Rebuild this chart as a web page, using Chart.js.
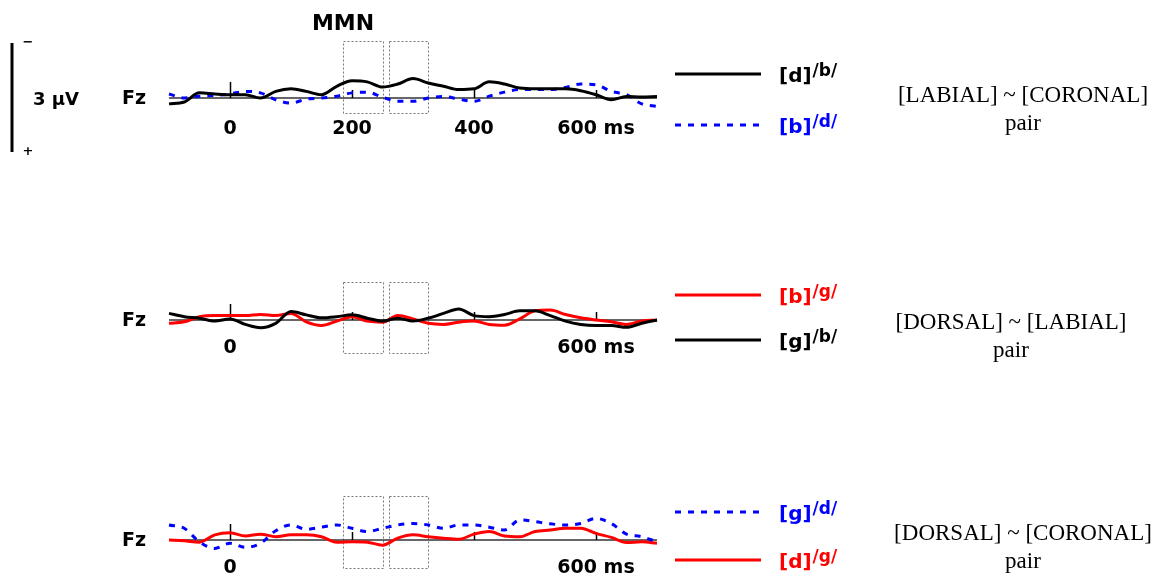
<!DOCTYPE html>
<html>
<head>
<meta charset="utf-8">
<script src="https://cdn.jsdelivr.net/npm/chart.js@4.4.1/dist/chart.umd.min.js"></script>
<style>
  html, body { margin: 0; padding: 0; background: #ffffff; }
  #wrap { position: relative; width: 1162px; height: 576px; overflow: hidden; }
  #wrap canvas { position: absolute; left: 0; top: 0; }
</style>
</head>
<body>
<div id="wrap">
  <canvas id="p1" width="1162" height="576"></canvas>
  <canvas id="p2" width="1162" height="576"></canvas>
  <canvas id="p3" width="1162" height="576"></canvas>
</div>
<script>
// ---------------- DATA ----------------
const timesMs = [-100,-75,-50,-25,0,25,50,75,100,125,150,175,200,225,250,275,300,325,350,375,400,425,450,475,500,525,550,575,600,625,650,675,700];
const tickMs = [0, 200, 400, 600];
const tickLabelsFull = ['0', '200', '400', '600 ms'];
const tickLabelsShort = ['0', '', '', '600 ms'];
const mmnWindowsMs = [[185, 250], [260, 325]];

// µV values, negative plotted upward
// [LABIAL] ~ [CORONAL] pair
const d_b = [0.16,0.11,-0.14,-0.11,-0.09,-0.09,0.00,-0.18,-0.25,-0.18,-0.09,-0.32,-0.47,-0.44,-0.30,-0.38,-0.53,-0.41,-0.32,-0.23,-0.25,-0.44,-0.38,-0.27,-0.25,-0.25,-0.25,-0.20,-0.09,0.05,-0.04,-0.03,-0.04];
const b_d = [-0.11,0.00,-0.05,-0.07,-0.11,-0.18,-0.14,0.05,0.14,0.03,0.00,-0.05,-0.14,-0.16,-0.02,0.09,0.09,0.00,-0.04,0.03,0.09,-0.05,-0.16,-0.23,-0.23,-0.23,-0.29,-0.38,-0.36,-0.18,-0.09,0.16,0.23];
// [DORSAL] ~ [LABIAL] pair
const b_g = [0.09,0.05,-0.09,-0.12,-0.12,-0.12,-0.15,-0.12,-0.18,0.05,0.15,0.03,-0.09,0.03,0.06,-0.12,-0.03,0.09,0.12,0.06,0.03,0.12,0.14,-0.03,-0.25,-0.27,-0.15,-0.06,0.00,0.05,0.12,0.03,0.00];
const g_b = [-0.18,-0.09,-0.05,0.03,-0.03,0.12,0.21,0.09,-0.23,-0.14,-0.06,-0.09,-0.14,-0.05,0.03,-0.05,0.03,-0.05,-0.18,-0.30,-0.12,-0.09,-0.15,-0.25,-0.25,-0.12,0.03,0.12,0.15,0.15,0.20,0.09,0.00];
// [DORSAL] ~ [CORONAL] pair
const g_d = [-0.41,-0.32,0.05,0.23,0.09,0.20,0.09,-0.25,-0.41,-0.29,-0.35,-0.41,-0.32,-0.23,-0.32,-0.41,-0.45,-0.41,-0.32,-0.41,-0.41,-0.35,-0.27,-0.55,-0.50,-0.44,-0.41,-0.45,-0.59,-0.45,-0.16,-0.09,0.05];
const d_g = [0.00,0.02,0.06,-0.14,-0.20,-0.11,-0.16,-0.09,-0.14,-0.14,-0.09,0.06,0.05,0.06,0.14,-0.05,-0.14,-0.09,-0.05,-0.02,-0.16,-0.23,-0.11,-0.09,-0.23,-0.27,-0.32,-0.32,-0.18,-0.07,0.07,0.05,0.09];

// ---------------- LAYOUT / STYLE ----------------
const W = 1162, H = 576;
const X_LEFT = 169, X_RIGHT = 657;
const PX_PER_UV = 36.67;
const Y_MIN = -1.5, Y_MAX = 0.9;
const BLACK = '#000000', RED = '#ff0000', BLUE = '#0000ff';
const BOLD = '"DejaVu Sans", "Liberation Sans", Arial, sans-serif';
const SERIF = '"Liberation Serif", "Times New Roman", serif';

function pts(vals) { return timesMs.map((t, i) => ({ x: t, y: vals[i] })); }

function series(label, vals, color, dashed) {
  return {
    label: label,
    data: pts(vals),
    borderColor: color,
    backgroundColor: color,
    borderWidth: 3,
    borderDash: dashed ? [6, 7] : [],
    pointRadius: 0,
    cubicInterpolationMode: 'monotone',
    fill: false,
    clip: false
  };
}

const erpPlugin = {
  id: 'erp',
  beforeDatasetsDraw(chart, args, o) {
    const ctx = chart.ctx, xs = chart.scales.x, ys = chart.scales.y;
    const y0 = ys.getPixelForValue(0);
    ctx.save();
    // MMN windows (dotted boxes)
    ctx.strokeStyle = '#777777';
    ctx.lineWidth = 1;
    ctx.setLineDash([2, 2]);
    mmnWindowsMs.forEach(w => {
      const xa = Math.round(xs.getPixelForValue(w[0])) + 0.5;
      const xb = Math.round(xs.getPixelForValue(w[1])) + 0.5;
      const yt = Math.round(y0 + o.boxTop) + 0.5;
      const yb = Math.round(y0 + o.boxBottom) + 0.5;
      ctx.strokeRect(xa, yt, xb - xa, yb - yt);
    });
    ctx.setLineDash([]);
    // zero line
    ctx.strokeStyle = '#333333';
    ctx.lineWidth = 1.5;
    ctx.beginPath();
    ctx.moveTo(xs.getPixelForValue(timesMs[0]), y0);
    ctx.lineTo(xs.getPixelForValue(timesMs[timesMs.length - 1]), y0);
    ctx.stroke();
    // ticks
    ctx.strokeStyle = '#000000';
    ctx.lineWidth = 1.5;
    tickMs.forEach(t => {
      const x = Math.round(xs.getPixelForValue(t)) + 0.5;
      const len = t === 0 ? 16 : 8;
      ctx.beginPath();
      ctx.moveTo(x, y0);
      ctx.lineTo(x, y0 - len);
      ctx.stroke();
    });
    ctx.restore();
  },
  afterDraw(chart, args, o) {
    const ctx = chart.ctx, xs = chart.scales.x, ys = chart.scales.y;
    const y0 = ys.getPixelForValue(0);
    ctx.save();
    ctx.fillStyle = '#000000';
    // electrode label
    ctx.font = 'bold 19px ' + BOLD;
    ctx.textAlign = 'left';
    ctx.textBaseline = 'middle';
    ctx.fillText('Fz', 122, y0 + 1.5);
    // tick labels
    ctx.textAlign = 'center';
    const labels = o.full ? tickLabelsFull : tickLabelsShort;
    tickMs.forEach((t, i) => {
      if (labels[i]) ctx.fillText(labels[i], xs.getPixelForValue(t), y0 + o.tickDy);
    });
    // legend
    o.legend.forEach(item => {
      const ds = chart.data.datasets[item.ds];
      ctx.strokeStyle = ds.borderColor;
      ctx.lineWidth = 3;
      ctx.setLineDash(ds.borderDash || []);
      ctx.beginPath();
      ctx.moveTo(675, item.y);
      ctx.lineTo(761, item.y);
      ctx.stroke();
      ctx.setLineDash([]);
      ctx.fillStyle = ds.borderColor;
      ctx.textAlign = 'left';
      ctx.textBaseline = 'alphabetic';
      ctx.font = 'bold 20px ' + BOLD;
      ctx.fillText(item.main, 779, item.y + 8);
      const w = ctx.measureText(item.main).width;
      ctx.font = 'bold 17px ' + BOLD;
      ctx.fillText(item.sup, 779 + w + 1, item.y + 2);
    });
    // right-hand description
    ctx.fillStyle = '#000000';
    ctx.textAlign = 'center';
    ctx.textBaseline = 'alphabetic';
    ctx.font = '23px ' + SERIF;
    ctx.fillText(o.title, o.titleX, o.titleY);
    ctx.fillText('pair', o.titleX, o.titleY + 28);
    // extras for the first panel
    if (o.full) {
      ctx.font = 'bold 22px ' + BOLD;
      ctx.textBaseline = 'middle';
      ctx.fillText('MMN', 343, 24);
      // calibration bar
      ctx.strokeStyle = '#000000';
      ctx.lineWidth = 3;
      ctx.beginPath();
      ctx.moveTo(12, 43);
      ctx.lineTo(12, 152);
      ctx.stroke();
      ctx.font = 'bold 13px ' + BOLD;
      ctx.fillText('\u2212', 28, 43);
      ctx.fillText('+', 28, 152);
      ctx.textAlign = 'left';
      ctx.font = 'bold 18px ' + BOLD;
      ctx.fillText('3 \u00b5V', 33, 100);
    }
    ctx.restore();
  }
};

function makePanel(id, baseline, datasets, cfg) {
  const top = baseline + Y_MIN * PX_PER_UV;
  const bottom = baseline + Y_MAX * PX_PER_UV;
  return new Chart(document.getElementById(id), {
    type: 'line',
    data: { datasets: datasets },
    options: {
      responsive: false,
      devicePixelRatio: 1,
      animation: false,
      events: [],
      layout: { padding: { left: X_LEFT, right: W - X_RIGHT, top: top, bottom: H - bottom } },
      scales: {
        x: { type: 'linear', min: timesMs[0], max: timesMs[timesMs.length - 1], display: false },
        y: { type: 'linear', min: Y_MIN, max: Y_MAX, reverse: true, display: false }
      },
      plugins: {
        legend: { display: false },
        tooltip: { enabled: false },
        title: { display: false },
        erp: cfg
      }
    },
    plugins: [erpPlugin]
  });
}

makePanel('p1', 98, [
  series('[d]/b/', d_b, BLACK, false),
  series('[b]/d/', b_d, BLUE, true)
], {
  full: true, tickDy: 31.5, boxTop: -57, boxBottom: 15,
  legend: [ { ds: 0, y: 74, main: '[d]', sup: '/b/' }, { ds: 1, y: 125, main: '[b]', sup: '/d/' } ],
  title: '[LABIAL] ~ [CORONAL]', titleX: 1023, titleY: 102
});

makePanel('p2', 320, [
  series('[g]/b/', g_b, BLACK, false),
  series('[b]/g/', b_g, RED, false)
], {
  full: false, tickDy: 28.5, boxTop: -38, boxBottom: 33,
  legend: [ { ds: 1, y: 295, main: '[b]', sup: '/g/' }, { ds: 0, y: 340, main: '[g]', sup: '/b/' } ],
  title: '[DORSAL] ~ [LABIAL]', titleX: 1011, titleY: 329
});

makePanel('p3', 540, [
  series('[g]/d/', g_d, BLUE, true),
  series('[d]/g/', d_g, RED, false)
], {
  full: false, tickDy: 28.5, boxTop: -44, boxBottom: 28,
  legend: [ { ds: 0, y: 512, main: '[g]', sup: '/d/' }, { ds: 1, y: 560, main: '[d]', sup: '/g/' } ],
  title: '[DORSAL] ~ [CORONAL]', titleX: 1023, titleY: 540
});
</script>
</body>
</html>
